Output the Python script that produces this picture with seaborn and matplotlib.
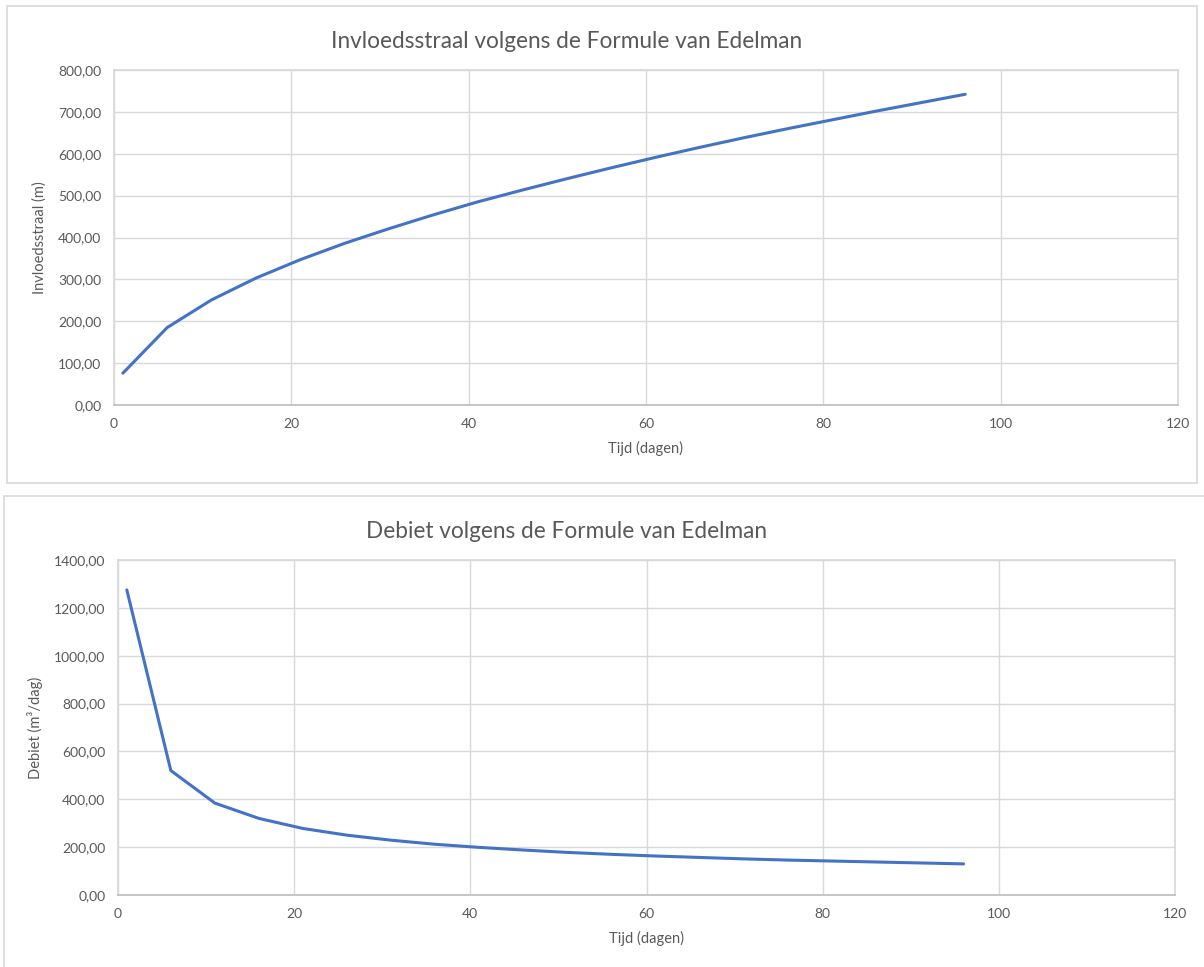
import matplotlib
matplotlib.use("Agg")
import matplotlib.pyplot as plt
import seaborn as sns
import pandas as pd
from matplotlib.ticker import FuncFormatter, MultipleLocator
from matplotlib.patches import Rectangle

tijd = [1, 6, 11, 16, 21, 26, 31, 36, 41, 46, 51, 56, 61, 66, 71, 76, 81, 86, 91, 96]
straal = [76, 185, 251, 303, 347, 386, 421, 454, 485, 513, 540, 566, 591, 615, 638,
          660, 681, 702, 722, 742]
debiet = [1275, 520, 384, 320, 278, 250, 229, 212, 199, 188, 178, 170, 163, 157, 151,
          146, 142, 138, 134, 130]

df = pd.DataFrame({'tijd': tijd, 'straal': straal, 'debiet': debiet})

sns.set_theme(style='white')
plt.rcParams['font.family'] = ['Lato', 'DejaVu Sans']
grey = '#595959'
blue = '#4472C4'
W, H = 1204, 967

fig = plt.figure(figsize=(W / 100, H / 100), dpi=100)
fig.patches.append(Rectangle((7 / W, 1 - 483 / H), 1190 / W, 477 / H, transform=fig.transFigure,
                             fill=False, edgecolor='#D9D9D9', linewidth=1.2))
fig.patches.append(Rectangle((4 / W, 1 - 970 / H), 1210 / W, 474 / H, transform=fig.transFigure,
                             fill=False, edgecolor='#D9D9D9', linewidth=1.2))

fmt = FuncFormatter(lambda v, p: f"{v:.2f}".replace('.', ','))


def style(ax, ymax, ystep, ylabel, title, ty):
    ax.set_xlim(0, 120)
    ax.set_ylim(0, ymax)
    ax.xaxis.set_major_locator(MultipleLocator(20))
    ax.yaxis.set_major_locator(MultipleLocator(ystep))
    ax.yaxis.set_major_formatter(fmt)
    ax.grid(True, color='#D9D9D9', linewidth=1)
    for s in ax.spines.values():
        s.set_color('#D9D9D9')
    ax.spines['bottom'].set_color('#BFBFBF')
    ax.tick_params(colors=grey, labelsize=10, length=0, pad=9)
    ax.set_xlabel('Tijd (dagen)', color=grey, fontsize=10.5, labelpad=8)
    ax.set_ylabel(ylabel, color=grey, fontsize=10.5, labelpad=8)
    fig.text(567 / W, 1 - ty / H, title, ha='center', va='center', color=grey, fontsize=16.3)


ax1 = fig.add_axes([114 / W, 1 - 405 / H, 1064 / W, 335 / H])
sns.lineplot(data=df, x='tijd', y='straal', ax=ax1, color=blue, linewidth=2.2)
style(ax1, 800, 100, 'Invloedsstraal (m)', 'Invloedsstraal volgens de Formule van Edelman', 42)

ax2 = fig.add_axes([118 / W, 1 - 895 / H, 1057 / W, 335 / H])
sns.lineplot(data=df, x='tijd', y='debiet', ax=ax2, color=blue, linewidth=2.2)
style(ax2, 1400, 200, 'Debiet (m³/dag)', 'Debiet volgens de Formule van Edelman', 531)

fig.savefig('out.png', dpi=100)
